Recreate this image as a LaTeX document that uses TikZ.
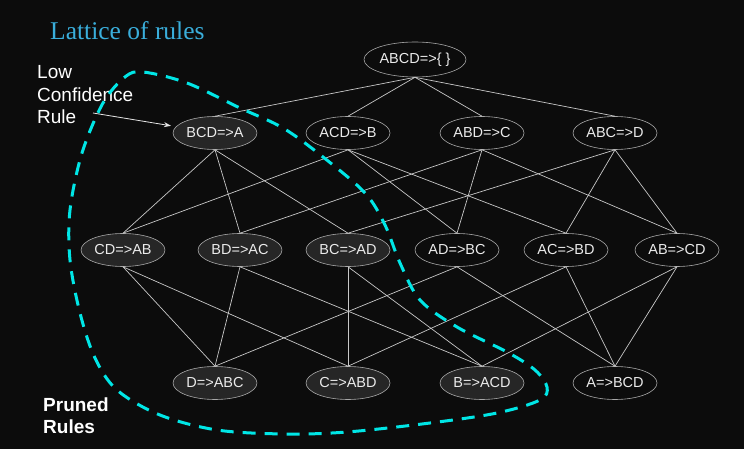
\documentclass[tikz,border=0pt]{standalone}
\usepackage{fontspec}
\setmainfont{Liberation Sans}
\newfontfamily\titlefont{Liberation Serif}
\usetikzlibrary{arrows.meta,shapes.geometric}
\definecolor{bg}{HTML}{0C0C0C}
\definecolor{darkfill}{HTML}{262626}
\definecolor{edgegray}{HTML}{C8C8C8}
\definecolor{rimgray}{HTML}{A8A8A8}
\definecolor{titleblue}{HTML}{3AAEDB}
\definecolor{prunecyan}{HTML}{00E6E6}
\begin{document}
\begin{tikzpicture}[x=1pt,y=-1pt,
  rulebox/.style={ellipse,draw=rimgray,line width=0.6pt,fill=bg,minimum width=84pt,minimum height=33pt,inner sep=0pt,text=white!92!black,font=\fontsize{14.5}{16}\selectfont},
  prunedbox/.style={rulebox,fill=darkfill},
  link/.style={draw=edgegray,line width=0.7pt},
  lbl/.style={text=white,font=\fontsize{19}{22}\selectfont,inner sep=0pt,anchor=base west}]
\fill[bg] (0,0) rectangle (744,449);
\useasboundingbox (0,0) rectangle (744,449);

\node[text=titleblue,font=\titlefont\fontsize{25.5}{28}\selectfont,inner sep=0pt,anchor=base west] (title) at (50,40) {Lattice of rules};

% level 0
\node[rulebox,minimum width=102pt,minimum height=35pt] (n0) at (415,59.5) {ABCD=>\{ \}};
% level 1
\node[prunedbox] (bcd) at (215,133) {BCD=>A};
\node[rulebox] (acd) at (348,133) {ACD=>B};
\node[rulebox] (abd) at (482,133) {ABD=>C};
\node[rulebox] (abc) at (615,133) {ABC=>D};
% level 2
\node[prunedbox] (cd) at (123,250) {CD=>AB};
\node[prunedbox] (bd) at (240,250) {BD=>AC};
\node[prunedbox] (bc) at (348,250) {BC=>AD};
\node[rulebox] (ad) at (457,250) {AD=>BC};
\node[rulebox] (ac) at (566,250) {AC=>BD};
\node[rulebox] (ab) at (677,250) {AB=>CD};
% level 3
\node[prunedbox] (d) at (215,383) {D=>ABC};
\node[prunedbox] (c) at (348,383) {C=>ABD};
\node[prunedbox] (b) at (482,383) {B=>ACD};
\node[rulebox] (a) at (615,383) {A=>BCD};

% edges level 0 -> 1
\foreach \t in {bcd,acd,abd,abc} \draw[link] (n0.south) -- (\t.north);
% level 1 -> 2
\foreach \s/\t in {bcd/cd,bcd/bd,bcd/bc,acd/cd,acd/ad,acd/ac,abd/bd,abd/ad,abd/ab,abc/bc,abc/ac,abc/ab}
  \draw[link] (\s.south) -- (\t.north);
% level 2 -> 3
\foreach \s/\t in {cd/d,cd/c,bd/d,bd/b,bc/c,bc/b,ad/d,ad/a,ac/c,ac/a,ab/b,ab/a}
  \draw[link] (\s.south) -- (\t.north);

% labels
\node[lbl] (low) at (37,79) {Low};
\node[lbl] (conf) at (37,101.5) {Confidence};
\node[lbl] (rulelbl) at (37,124) {Rule};
\coordinate (arrowstart) at (93,113);
\draw[draw=white!90!black,line width=0.8pt,-{Stealth[length=7pt,width=5pt]},shorten >=5pt] (arrowstart) -- (bcd);

\node[lbl,font=\bfseries\fontsize{19}{22}\selectfont] (pr1) at (43,411) {Pruned};
\node[lbl,font=\bfseries\fontsize{19}{22}\selectfont] (pr2) at (43,433.5) {Rules};

% pruned region
\draw[prunecyan,line width=3pt,dash pattern=on 13pt off 9pt]
  plot[smooth cycle,tension=0.55] coordinates {
  (143,72) (187,83) (240,108) (283,128) (323,157) (365,193) (385,225) (400,263)
  (420,300) (457,327) (507,352) (535,370) (547,387) (540,400) (497,413) (430,423)
  (347,432) (285,434) (217,430) (160,415) (117,390) (95,358) (80,313) (70,260)
  (70,210) (82,153) (103,103) (125,77)};
\end{tikzpicture}
\end{document}
